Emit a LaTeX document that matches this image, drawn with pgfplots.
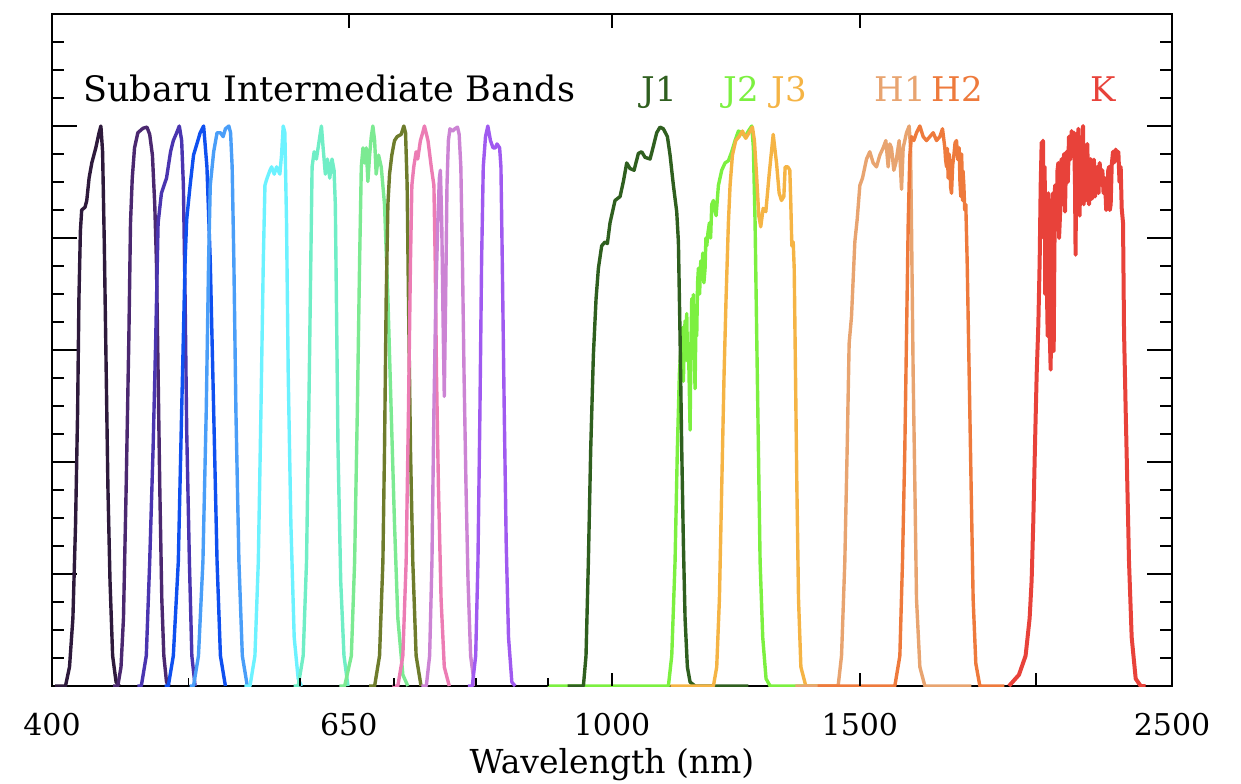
\documentclass[border=0pt]{standalone}
\usepackage{pgfplots}
\pgfplotsset{compat=1.18}
\usepackage{fontspec}
\setmainfont{DejaVu Serif}

\definecolor{c427}{HTML}{2E1A3C}
\definecolor{c464}{HTML}{4B2870}
\definecolor{c484}{HTML}{4A35B0}
\definecolor{c505}{HTML}{0F50F0}
\definecolor{c527}{HTML}{4A9EF8}
\definecolor{c574}{HTML}{6CF2FF}
\definecolor{c624}{HTML}{70EEC6}
\definecolor{c679}{HTML}{7CEA92}
\definecolor{c709}{HTML}{6E7C2C}
\definecolor{c738}{HTML}{EC7CB4}
\definecolor{c768}{HTML}{CC84D4}
\definecolor{c827}{HTML}{A05AF0}
\definecolor{cJ1}{HTML}{2F5F1F}
\definecolor{cJ2}{HTML}{7CF040}
\definecolor{cJ3}{HTML}{F5B445}
\definecolor{cH1}{HTML}{E8A470}
\definecolor{cH2}{HTML}{EE7A3C}
\definecolor{cK}{HTML}{E8423A}

\tikzset{fcurve/.style={line width=1.7pt, line join=round}}

\begin{document}
\begin{tikzpicture}
\begin{axis}[scale only axis, width=560pt, height=336pt, xmode=log,
  xmin=400, xmax=2500, ymin=0, ymax=1.2,
  axis line style={line width=1pt, black},
  tick style={black, line width=0.9pt}, tick align=inside,
  ytick={0,0.2,0.4,0.6,0.8,1,1.2}, minor y tick num=3, yticklabels={},
  ytick pos=both, xtick=\empty,
  major tick length=12.5pt, minor tick length=6pt]

% IA427
\addplot[fcurve, c427, no markers] coordinates {(402,0)(408.9,0)(411.6,0.034)(413.9,0.121)(415.7,0.289)(417.1,0.491)(418.0,0.692)(419.0,0.813)(419.9,0.850)(422.2,0.855)(423.4,0.867)(425.0,0.907)(426.9,0.934)(429.7,0.961)(432.0,0.988)(433.3,1.0)(434.5,0.954)(435.7,0.793)(436.9,0.591)(438.3,0.356)(439.8,0.188)(441.7,0.054)(444.2,0.007)(446.6,0)};
% IA464
\addplot[fcurve, c464, no markers] coordinates {(442,0)(445.4,0)(447.8,0.034)(449.6,0.121)(451.6,0.356)(453.6,0.625)(454.8,0.827)(456.1,0.907)(457.8,0.961)(460.3,0.988)(464.2,0.996)(467.2,0.998)(469.3,0.985)(471.4,0.948)(473.2,0.860)(474.5,0.759)(475.8,0.558)(477.1,0.356)(478.7,0.155)(480.3,0.054)(482.4,0.007)(484.5,0)};
% IA484
\addplot[fcurve, c484, no markers] coordinates {(460,0)(462.9,0)(466.7,0.054)(469.3,0.222)(471.9,0.423)(474.0,0.625)(475.8,0.827)(478.4,0.880)(482.4,0.907)(485.6,0.954)(487.8,0.974)(490.5,0.988)(492.6,1.0)(494.5,0.974)(495.9,0.894)(497.3,0.692)(498.6,0.457)(500.8,0.222)(502.8,0.054)(505.5,0)};
% IA505
\addplot[fcurve, c505, no markers] coordinates {(481,0)(483.8,0)(487.8,0.054)(491.8,0.222)(494.5,0.491)(497.3,0.759)(498.6,0.833)(501.4,0.894)(504.2,0.948)(507.0,0.968)(509.7,0.988)(512.6,1.0)(515.4,0.927)(518.2,0.759)(521.1,0.491)(524.0,0.222)(526.9,0.054)(531.2,0)};
% IA527
\addplot[fcurve, c527, no markers] coordinates {(501,0)(504.2,0)(508.3,0.054)(512.0,0.222)(514.8,0.491)(516.8,0.759)(518.2,0.894)(521.1,0.954)(524.0,0.988)(526.9,0.988)(529.2,0.981)(531.2,0.995)(534.2,1.0)(535.7,0.988)(537.1,0.927)(538.6,0.759)(540.4,0.491)(543.1,0.222)(546.1,0.054)(550.6,0)};
% IA574
\addplot[fcurve, c574, no markers] coordinates {(548,0)(553.0,0)(557.5,0.054)(560.6,0.222)(563.0,0.491)(565.2,0.759)(566.7,0.894)(568.2,0.904)(571.4,0.921)(572.9,0.927)(575.4,0.914)(577.6,0.927)(580.7,0.914)(582.3,0.948)(583.9,1.0)(585.5,0.988)(587.1,0.827)(588.7,0.558)(591.3,0.289)(594.5,0.087)(598.4,0.013)(601.6,0)};
% IA624
\addplot[fcurve, c624, no markers] coordinates {(594,0)(598.4,0)(603.3,0.054)(606.6,0.222)(608.9,0.491)(610.9,0.759)(612.2,0.927)(614.2,0.954)(616.5,0.941)(618.2,0.961)(619.9,0.981)(621.6,1.0)(623.3,0.961)(625.6,0.914)(627.7,0.941)(630.1,0.907)(632.5,0.941)(634.6,0.921)(635.9,0.860)(637.0,0.692)(638.7,0.423)(641.5,0.188)(645.0,0.054)(649.2,0)};
% IA679
\addplot[fcurve, c679, no markers] coordinates {(640,0)(645.7,0)(652.8,0.054)(656.3,0.222)(659.2,0.491)(661.7,0.759)(663.5,0.927)(665.3,0.961)(667.1,0.934)(668.9,0.961)(670.7,0.901)(672.6,0.948)(674.4,0.981)(676.2,1.0)(678.1,0.974)(679.9,0.914)(682.5,0.948)(685.5,0.927)(689.2,0.860)(693.0,0.692)(696.8,0.491)(700.6,0.289)(704.4,0.121)(710.2,0.020)(716.0,0)};
% IA709
\addplot[fcurve, c709, no markers] coordinates {(672,0)(678.1,0)(683.6,0.054)(687.4,0.222)(689.2,0.423)(691.1,0.692)(693.0,0.860)(694.9,0.914)(697.5,0.948)(700.6,0.974)(703.6,0.981)(708.2,0.985)(711.3,1.0)(713.3,0.988)(715.2,0.894)(716.7,0.692)(719.1,0.423)(721.8,0.222)(725.8,0.054)(731.7,0)};
% IA738
\addplot[fcurve, c738, no markers] coordinates {(698,0)(704.4,0)(710.2,0.054)(714.0,0.222)(716.7,0.491)(719.1,0.759)(720.7,0.894)(723.0,0.927)(725.8,0.954)(727.7,0.941)(730.9,0.974)(733.7,0.988)(735.7,1.0)(740.0,0.974)(744.0,0.927)(747.2,0.894)(748.8,0.759)(750.4,0.558)(752.8,0.356)(756.1,0.155)(760.1,0.034)(766.3,0)};
% IA768
\addplot[fcurve, c768, no markers] coordinates {(732,0)(738.0,0)(742.0,0.054)(744.8,0.222)(747.2,0.491)(749.6,0.692)(752.0,0.827)(754.0,0.907)(755.2,0.921)(756.9,0.827)(758.5,0.659)(760.1,0.517)(761.8,0.692)(763.4,0.894)(765.1,0.974)(767.1,0.995)(770.4,0.991)(773.3,0.995)(776.7,0.998)(778.8,0.985)(780.9,0.927)(783.0,0.759)(785.1,0.558)(787.6,0.356)(790.2,0.188)(793.6,0.054)(798.7,0)};
% IA827
\addplot[fcurve, c827, no markers] coordinates {(790,0)(795.7,0)(800.0,0.054)(803.0,0.222)(805.6,0.491)(807.8,0.759)(810.0,0.927)(813.0,0.981)(816.1,1.0)(819.6,0.974)(823.1,0.961)(826.2,0.961)(828.5,0.968)(832.0,0.961)(833.8,0.927)(835.6,0.759)(838.3,0.491)(841.0,0.255)(844.2,0.087)(848.8,0.007)(853.4,0)};
% J2
\addplot[fcurve, cJ2, no markers] coordinates {(900,0)(1096.6,0)(1102.6,0.054)(1108.6,0.222)(1112.8,0.423)(1116.5,0.558)(1118.9,0.598)(1120.8,0.591)(1122.3,0.640)(1123.8,0.544)(1125.3,0.610)(1126.9,0.652)(1128.4,0.600)(1130.0,0.665)(1131.5,0.580)(1133.1,0.612)(1134.6,0.540)(1136.2,0.457)(1137.7,0.600)(1139.3,0.692)(1140.8,0.620)(1142.4,0.699)(1144.0,0.600)(1145.5,0.531)(1147.0,0.640)(1148.6,0.625)(1150.2,0.720)(1151.8,0.746)(1154.0,0.700)(1156.2,0.759)(1158.0,0.730)(1160.0,0.773)(1162.2,0.720)(1164.4,0.746)(1166.0,0.800)(1167.6,0.786)(1170.0,0.810)(1172.7,0.827)(1175.0,0.800)(1177.2,0.860)(1180.4,0.867)(1183.0,0.850)(1185.6,0.840)(1190.1,0.894)(1196.6,0.921)(1203.1,0.934)(1209.7,0.938)(1216.3,0.954)(1223.0,0.974)(1229.7,0.991)(1236.4,0.988)(1243.2,0.981)(1250.0,0.991)(1256.8,1.0)(1260.2,0.961)(1263.7,0.827)(1267.1,0.625)(1270.6,0.423)(1274.1,0.222)(1279.6,0.087)(1286.6,0.013)(1295.1,0)(1400,0)};
% J1
\addplot[fcurve, cJ1, no markers] coordinates {(930,0)(954.2,0)(958.3,0.054)(962.0,0.222)(965.7,0.423)(969.9,0.591)(974.2,0.692)(977.9,0.746)(983.2,0.786)(988.6,0.793)(992.4,0.790)(996.7,0.827)(1004.9,0.867)(1013.2,0.874)(1018.7,0.901)(1024.3,0.934)(1029.9,0.924)(1036.7,0.921)(1044.0,0.951)(1049.7,0.954)(1055.5,0.944)(1064.2,0.941)(1070.0,0.964)(1075.8,0.988)(1081.7,0.998)(1087.6,0.995)(1094.8,0.981)(1099.6,0.948)(1105.6,0.894)(1111.6,0.847)(1114.7,0.793)(1117.7,0.625)(1120.8,0.423)(1123.8,0.255)(1126.9,0.121)(1131.2,0.034)(1136.2,0.007)(1145.5,0)(1250,0)};
% J3
\addplot[fcurve, cJ3, no markers] coordinates {(1100,0)(1180.4,0)(1186.8,0.034)(1192.0,0.155)(1196.6,0.356)(1201.2,0.558)(1205.1,0.692)(1209.7,0.827)(1213.0,0.894)(1217.7,0.948)(1224.3,0.974)(1231.0,0.981)(1237.8,0.991)(1244.5,0.978)(1251.3,0.988)(1258.2,0.998)(1262.3,0.974)(1267.1,0.907)(1271.3,0.840)(1275.4,0.820)(1280.5,0.853)(1286.1,0.847)(1293.2,0.914)(1301.7,0.985)(1308.8,0.934)(1314.5,0.880)(1319.5,0.867)(1324.6,0.874)(1327.5,0.927)(1333.3,0.927)(1337.6,0.921)(1339.8,0.860)(1342.0,0.786)(1345.0,0.793)(1347.2,0.746)(1350.1,0.558)(1353.1,0.356)(1356.8,0.155)(1362.0,0.034)(1373.1,0)(1450,0)};
% H1
\addplot[fcurve, cH1, no markers] coordinates {(1350,0)(1447.7,0)(1455.7,0.054)(1463.6,0.222)(1469.2,0.423)(1474.0,0.612)(1479.7,0.659)(1487.8,0.793)(1493.5,0.833)(1500,0.894)(1506.6,0.907)(1516.5,0.941)(1524.7,0.954)(1533.1,0.934)(1541.5,0.927)(1549.9,0.948)(1558.4,0.961)(1565.2,0.974)(1571.2,0.927)(1575.5,0.968)(1579.8,0.961)(1585.8,0.921)(1591.0,0.934)(1599.7,0.974)(1605.9,0.887)(1610.2,0.961)(1619.1,0.988)(1626.1,1.0)(1629.7,0.961)(1632.3,0.827)(1636.8,0.558)(1641.3,0.356)(1645.8,0.155)(1654.8,0.034)(1668.4,0)(1800,0)};
% H2
\addplot[fcurve, cH2, no markers] coordinates {(1400,0)(1588.4,0)(1601.5,0.054)(1608.5,0.222)(1614.6,0.423)(1619.1,0.625)(1623.5,0.827)(1627.9,0.948)(1632.3,0.981)(1638.6,0.974)(1645.8,0.988)(1654.8,1.0)(1663.8,0.981)(1672.9,0.974)(1682.1,0.981)(1691.3,0.988)(1700.5,0.974)(1709.8,0.981)(1717.3,0.995)(1723.9,0.961)(1726.0,0.940)(1728.6,0.927)(1731.0,0.960)(1733.3,0.907)(1736.0,0.950)(1738.1,0.934)(1740.5,0.890)(1742.8,0.880)(1746.0,0.930)(1749.5,0.948)(1753.0,0.970)(1757.1,0.974)(1761.0,0.940)(1764.8,0.961)(1767.0,0.900)(1769.6,0.874)(1772.0,0.950)(1774.4,0.867)(1776.0,0.920)(1778.3,0.894)(1781.0,0.850)(1784.1,0.860)(1788.0,0.759)(1793.9,0.558)(1799.8,0.356)(1805.7,0.155)(1813.6,0.040)(1825.5,0)(1900,0)};
% K
\addplot[fcurve, cK, no markers, line width=2pt] coordinates {(1914.6,0)(1946.2,0.020)(1967.5,0.054)(1980.5,0.121)(1986.9,0.188)(1992.4,0.289)(1997.8,0.423)(2003.3,0.558)(2008.7,0.645)(2013.1,0.759)(2016.4,0.894)(2019.7,0.971)(2022.0,0.900)(2024.1,0.974)(2026.5,0.800)(2029.7,0.927)(2031.5,0.700)(2033.0,0.759)(2036.3,0.860)(2038.0,0.680)(2039.7,0.625)(2042.0,0.880)(2044.1,0.827)(2047.0,0.620)(2049.7,0.565)(2052.5,0.800)(2055.3,0.726)(2057.5,0.880)(2059.8,0.598)(2062.0,0.760)(2064.3,0.894)(2067.0,0.820)(2069.9,0.827)(2072.5,0.920)(2075.6,0.934)(2078.0,0.800)(2081.2,0.840)(2084.0,0.930)(2086.9,0.941)(2089.0,0.860)(2091.5,0.894)(2095.0,0.950)(2098.3,0.847)(2101.0,0.920)(2104.1,0.954)(2108.0,0.900)(2112.1,0.981)(2116.0,0.940)(2121.4,0.991)(2125.0,0.950)(2129.5,0.988)(2133.0,0.894)(2135.0,0.770)(2137.6,0.968)(2141.0,0.930)(2144.6,0.995)(2147.0,0.900)(2149.3,0.840)(2151.5,0.980)(2154.0,0.961)(2157.0,0.900)(2161.1,1.0)(2163.5,0.860)(2165.8,0.941)(2168.0,0.890)(2170.5,0.867)(2173.5,0.950)(2176.5,0.968)(2179.0,0.880)(2182.4,0.860)(2185.5,0.930)(2188.4,0.941)(2192.5,0.870)(2196.8,0.894)(2200.0,0.940)(2203.9,0.874)(2208.0,0.910)(2212.4,0.927)(2216.5,0.880)(2220.8,0.934)(2225.5,0.900)(2230.6,0.921)(2235.0,0.880)(2240.3,0.907)(2244.5,0.850)(2248.9,0.860)(2252.0,0.920)(2255.0,0.927)(2258.0,0.850)(2261.2,0.860)(2265.0,0.930)(2269.8,0.954)(2274.5,0.935)(2279.8,0.958)(2284.5,0.940)(2289.7,0.954)(2294.0,0.900)(2298.5,0.927)(2302.3,0.853)(2307.3,0.827)(2311.1,0.632)(2317.4,0.491)(2323.7,0.356)(2330.0,0.222)(2340.2,0.087)(2355.6,0.013)(2375.0,0)(2394.5,0)};

\node[anchor=base west, inner sep=0pt, font=\fontsize{17.5}{17.5}\selectfont, text=black] at (axis cs:420.8,1.044) {Subaru Intermediate Bands};
\node[anchor=base, inner sep=0pt, font=\fontsize{17}{17}\selectfont, text=cJ1] at (axis cs:1080,1.044) {J1};
\node[anchor=base, inner sep=0pt, font=\fontsize{17}{17}\selectfont, text=cJ2] at (axis cs:1235,1.044) {J2};
\node[anchor=base, inner sep=0pt, font=\fontsize{17}{17}\selectfont, text=cJ3] at (axis cs:1336,1.044) {J3};
\node[anchor=base, inner sep=0pt, font=\fontsize{17}{17}\selectfont, text=cH1] at (axis cs:1602,1.044) {H1};
\node[anchor=base, inner sep=0pt, font=\fontsize{17}{17}\selectfont, text=cH2] at (axis cs:1759,1.044) {H2};
\node[anchor=base, inner sep=0pt, font=\fontsize{17}{17}\selectfont, text=cK] at (axis cs:2234,1.044) {K};
\end{axis}

% bottom x ticks
\begin{axis}[scale only axis, width=560pt, height=336pt, xmode=log,
  xmin=400, xmax=2500, ymin=0, ymax=1.2,
  hide y axis, axis line style={draw=none},
  tick style={black, line width=0.9pt}, tick align=inside,
  xtick={1000,1500,2000}, minor xtick={500,600,700,800,900},
  xtick pos=left, xticklabels={},
  major tick length=6.5pt, minor tick length=4pt]
\end{axis}

% top x ticks and bottom labels
\begin{axis}[scale only axis, width=560pt, height=336pt, xmode=log,
  xmin=400, xmax=2500, ymin=0, ymax=1.2, clip=false,
  hide y axis, axis line style={draw=none},
  tick style={black, line width=0.9pt}, tick align=inside,
  xtick={400,650,1000,1500,2500}, xticklabels={400,650,1000,1500,2500},
  xtick pos=right, xticklabel pos=left,
  major tick length=7pt,
  xticklabel style={font=\fontsize{15}{15}\selectfont, anchor=base, yshift=-24.5pt, text=black}]
\node[anchor=base, inner sep=0pt, font=\fontsize{16.5}{16.5}\selectfont, text=black] at (rel axis cs:0.5,0) [yshift=-43.5pt] {Wavelength (nm)};
\end{axis}

\pgfresetboundingbox
\path (-26pt,-48.5pt) rectangle (594.5pt,343pt);
\end{tikzpicture}
\end{document}
